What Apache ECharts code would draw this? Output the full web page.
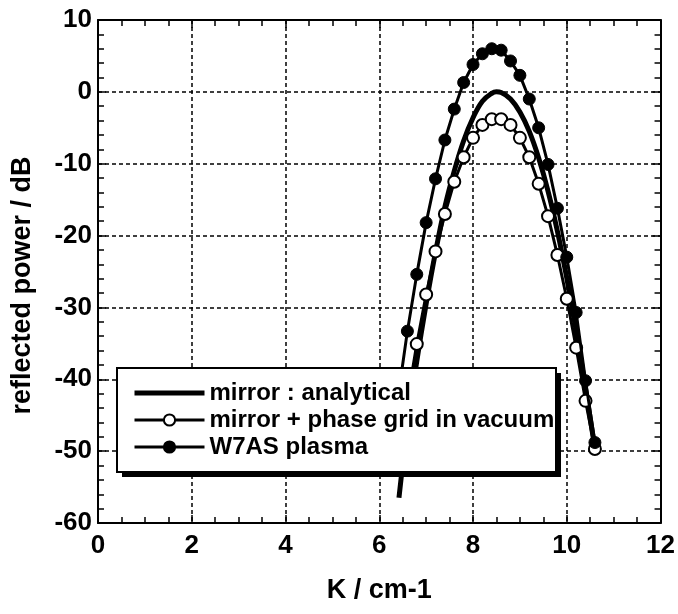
<!DOCTYPE html>
<html>
<head>
<meta charset="utf-8">
<script src="https://cdn.jsdelivr.net/npm/echarts@6/dist/echarts.min.js"></script>
<style>
  html, body { margin: 0; padding: 0; background: #fff; }
  #chart { width: 678px; height: 614px; }
</style>
</head>
<body>
<div id="chart"></div>
<script>
// K / cm-1 and reflected power / dB
const kAnalytical = [6.42, 6.6, 6.8, 7.0, 7.2, 7.4, 7.6, 7.8, 8.0, 8.2, 8.4, 8.5, 8.6, 8.8, 9.0, 9.2, 9.4, 9.6, 9.8, 10.0, 10.2, 10.4, 10.6];
const dbAnalytical = [-56.5, -46.5, -37.5, -29.5, -22.3, -16.0, -11.0, -6.8, -3.6, -1.3, -0.2, 0, -0.1, -1.0, -2.8, -5.5, -9.2, -13.8, -19.4, -25.9, -33.2, -41.3, -49.6];

const kVacuum = [6.6, 6.8, 7.0, 7.2, 7.4, 7.6, 7.8, 8.0, 8.2, 8.4, 8.6, 8.8, 9.0, 9.2, 9.4, 9.6, 9.8, 10.0, 10.2, 10.4, 10.6];
const dbVacuum = [-43.0, -35.1, -28.2, -22.2, -17.0, -12.5, -9.1, -6.4, -4.6, -3.8, -3.8, -4.6, -6.4, -9.1, -12.8, -17.3, -22.7, -28.8, -35.6, -43.0, -49.7];

const kPlasma = [6.4, 6.6, 6.8, 7.0, 7.2, 7.4, 7.6, 7.8, 8.0, 8.2, 8.4, 8.6, 8.8, 9.0, 9.2, 9.4, 9.6, 9.8, 10.0, 10.2, 10.4, 10.6];
const dbPlasma = [-42.5, -33.3, -25.4, -18.2, -12.1, -6.7, -2.4, 1.3, 3.8, 5.3, 6.0, 5.8, 4.3, 2.3, -1.0, -5.0, -10.1, -16.2, -23.0, -30.7, -40.2, -48.8];

const seriesNames = ["mirror : analytical", "mirror + phase grid in vacuum", "W7AS plasma"];

const FONT = "'Liberation Sans', Arial, Helvetica, sans-serif";

function pairs(xs, ys) {
  return xs.map((x, i) => [x, ys[i]]);
}

function frameAxis(position, splitNumber, extra) {
  return Object.assign({
    type: "value",
    position: position,
    axisLine: { show: true, onZero: false, lineStyle: { color: "#000", width: 2 } },
    axisTick: { show: true, inside: true, length: 8, lineStyle: { color: "#000", width: 1.5 } },
    minorTick: { show: true, splitNumber: splitNumber, length: 6, lineStyle: { color: "#000", width: 1.5 } },
    axisLabel: { show: false },
    splitLine: { show: false }
  }, extra);
}

const gridLine = { show: true, lineStyle: { color: "#000", width: 1.5, type: [4, 3] } };
const tickLabel = { show: true, color: "#000", fontFamily: FONT, fontWeight: "bold", fontSize: 26 };
const titleText = { color: "#000", fontFamily: FONT, fontWeight: "bold", fontSize: 27 };

const xRange = { min: 0, max: 12, interval: 2 };
const yRange = { min: -60, max: 10, interval: 10 };

// legend frame with its hard drop shadow (layout only)
const legendBox = { x: 117, y: 368, width: 439, height: 104 };

const option = {
  backgroundColor: "#fff",
  animation: false,
  grid: { left: 98, right: 10, top: 20, bottom: 91 },
  xAxis: [
    frameAxis("bottom", 4, Object.assign({}, xRange, {
      axisLabel: Object.assign({ margin: 10 }, tickLabel),
      splitLine: gridLine,
      name: "K / cm-1",
      nameLocation: "middle",
      nameGap: 54,
      nameTextStyle: titleText
    })),
    frameAxis("top", 4, Object.assign({}, xRange))
  ],
  yAxis: [
    frameAxis("left", 5, Object.assign({}, yRange, {
      axisLabel: Object.assign({ margin: 6 }, tickLabel),
      splitLine: gridLine,
      name: "reflected power / dB",
      nameLocation: "middle",
      nameGap: 62,
      nameTextStyle: Object.assign({ padding: [0, 28, 0, 0] }, titleText)
    })),
    frameAxis("right", 5, Object.assign({}, yRange))
  ],
  graphic: [
    {
      type: "rect",
      z: 10,
      shape: { x: legendBox.x + 5, y: legendBox.y + 5, width: legendBox.width, height: legendBox.height },
      style: { fill: "#000" }
    },
    {
      type: "rect",
      z: 11,
      shape: legendBox,
      style: { fill: "#fff", stroke: "#000", lineWidth: 2 }
    }
  ],
  legend: {
    z: 20,
    orient: "vertical",
    left: legendBox.x,
    top: legendBox.y,
    data: [
      { name: seriesNames[0], icon: "path://M0 0H70V5H0Z" },
      { name: seriesNames[1] },
      { name: seriesNames[2] }
    ],
    padding: [13, 2, 12, 16],
    itemWidth: 70,
    itemHeight: 14,
    itemGap: 3,
    lineStyle: { width: 3, color: "#000" },
    textStyle: { color: "#000", fontFamily: FONT, fontWeight: "bold", fontSize: 24, lineHeight: 24 }
  },
  series: [
    {
      name: seriesNames[0],
      type: "line",
      data: pairs(kAnalytical, dbAnalytical),
      smooth: 0.4,
      symbol: "none",
      lineStyle: { color: "#000", width: 5 },
      itemStyle: { color: "#000" },
      z: 2
    },
    {
      name: seriesNames[1],
      type: "line",
      data: pairs(kVacuum, dbVacuum),
      symbol: "circle",
      symbolSize: 12,
      showAllSymbol: true,
      lineStyle: { color: "#000", width: 3 },
      itemStyle: { color: "#fff", borderColor: "#000", borderWidth: 2 },
      z: 3
    },
    {
      name: seriesNames[2],
      type: "line",
      data: pairs(kPlasma, dbPlasma),
      symbol: "circle",
      symbolSize: 12,
      showAllSymbol: true,
      lineStyle: { color: "#000", width: 3 },
      itemStyle: { color: "#000", borderColor: "#000", borderWidth: 1 },
      z: 4
    }
  ]
};

const chart = echarts.init(document.getElementById("chart"), null, { renderer: "canvas" });
chart.setOption(option);
</script>
</body>
</html>
